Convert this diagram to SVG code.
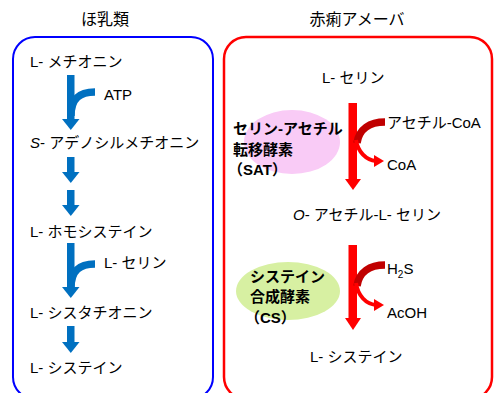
<svg xmlns="http://www.w3.org/2000/svg" width="494" height="393" viewBox="0 0 494 393">
<style>
text{font-family:"Liberation Sans","Noto Sans CJK JP",sans-serif;fill:#000;}
.t{font-size:15px;}
.h{font-size:16px;}
.b{font-size:15px;font-weight:bold;}
.blue{fill:#0070c0;}
.bst{fill:none;stroke:#0070c0;stroke-width:7.5;}
.red{fill:#ff0000;}
.dk{fill:none;stroke:#c00000;stroke-width:7.5;}
.lt{fill:none;stroke:#ff0000;stroke-width:4;}
</style>
<rect width="494" height="393" fill="#fff"/>
<g id="mammal">
<rect x="13" y="37" width="200" height="362" rx="22" fill="none" stroke="#0000ff" stroke-width="2"/>
<text class="h" x="105" y="25" text-anchor="middle">ほ乳類</text>
</g>
<g id="amoeba">
<rect x="224" y="37" width="268" height="362" rx="22" fill="none" stroke="#ff0000" stroke-width="2.5"/>
<text class="h" x="357" y="25" text-anchor="middle">赤痢アメーバ</text>
</g>
<g id="n-met"><text class="t" x="30" y="67">L- メチオニン</text></g>
<g id="n-atp"><text class="t" x="104" y="100">ATP</text></g>
<g id="n-sam"><text class="t" x="30" y="148"><tspan font-style="italic">S</tspan>- アデノシルメチオニン</text></g>
<g id="n-hcy"><text class="t" x="30" y="237">L- ホモシステイン</text></g>
<g id="n-ser1"><text class="t" x="104" y="268">L- セリン</text></g>
<g id="n-cth"><text class="t" x="30" y="318">L- シスタチオニン</text></g>
<g id="n-cys1"><text class="t" x="30" y="373">L- システイン</text></g>
<g id="n-ser2"><text class="t" x="322" y="83">L- セリン</text></g>
<g id="n-sat">
<ellipse cx="292" cy="142" rx="48" ry="32" fill="#f9cbf6"/>
<text class="b" x="233" y="134">セリン-アセチル</text>
<text class="b" x="233" y="155">転移酵素</text>
<text class="b" x="228" y="175">（SAT）</text>
</g>
<g id="n-accoa"><text class="t" x="387" y="128">アセチル-CoA</text></g>
<g id="n-coa"><text class="t" x="387" y="170">CoA</text></g>
<g id="n-oas"><text class="t" x="293" y="220"><tspan font-style="italic">O</tspan>- アセチル-L- セリン</text></g>
<g id="n-cs">
<ellipse cx="288" cy="291" rx="52" ry="29" fill="#d7f0a2"/>
<text class="b" x="250" y="282">システイン</text>
<text class="b" x="250" y="302">合成酵素</text>
<text class="b" x="245" y="323">（CS）</text>
</g>
<g id="n-h2s"><text class="t" x="387" y="274">H<tspan font-size="10" dy="4">2</tspan><tspan dy="-4">S</tspan></text></g>
<g id="n-acoh"><text class="t" x="387" y="318">AcOH</text></g>
<g id="n-cys2"><text class="t" x="310" y="362">L- システイン</text></g>
<g id="connectors">
<!-- blue arrows -->
<rect class="blue" x="67" y="75" width="7.5" height="44"/>
<polygon class="blue" points="62,119 79.5,119 70.8,130"/>
<path class="bst" d="M95 92 C80 92 71 98 71 116"/>
<rect class="blue" x="67" y="157" width="7.5" height="15"/>
<polygon class="blue" points="62,172 79.5,172 70.8,183"/>
<rect class="blue" x="67" y="190" width="7.5" height="15"/>
<polygon class="blue" points="62,205 79.5,205 70.8,216"/>
<rect class="blue" x="67" y="243" width="7.5" height="44"/>
<polygon class="blue" points="62,287 79.5,287 70.8,298"/>
<path class="bst" d="M95 264 C80 264 71 270 71 288"/>
<rect class="blue" x="67" y="326" width="7.5" height="16"/>
<polygon class="blue" points="62,342 79.5,342 70.8,353"/>
<!-- red arrows -->
<rect class="red" x="348.5" y="103" width="8.5" height="77"/>
<polygon class="red" points="345,179 361,179 353,190"/>
<path class="dk" d="M385 122 C370 122 359 129 357 143"/>
<path class="lt" d="M356 140 C358 152 366 160 376 161"/>
<polygon class="red" points="374,155 384,161 374,167"/>
<rect class="red" x="348.5" y="245" width="8.5" height="74"/>
<polygon class="red" points="345,318 361,318 353,330"/>
<path class="dk" d="M385 265 C370 265 359 272 357 286"/>
<path class="lt" d="M356 283 C358 296 366 304 376 305"/>
<polygon class="red" points="374,299 384,305 374,311"/>
</g>
</svg>
